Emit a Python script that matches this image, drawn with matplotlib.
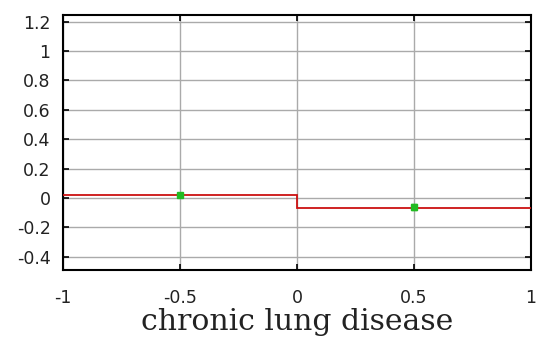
import matplotlib.pyplot as plt

# step function (partial dependence) and group means
edges = [-1, 0, 1]
levels = [0.02, -0.065]
pt_x = [-0.5, 0.5]
pt_y = [0.02, -0.06]
pt_err = [0.01, 0.02]

xticks = [-1, -0.5, 0, 0.5, 1]
xlabels = ["-1", "-0.5", "0", "0.5", "1"]
yticks = [-0.4, -0.2, 0, 0.2, 0.4, 0.6, 0.8, 1, 1.2]
ylabels = ["-0.4", "-0.2", "0", "0.2", "0.4", "0.6", "0.8", "1", "1.2"]

fig = plt.figure(figsize=(5.39, 3.6), dpi=100)
ax = fig.add_axes([0.117, 0.25, 0.868, 0.708])

ax.stairs(levels, edges, color="#cc1111", linewidth=1.3, baseline=None, zorder=3)
ax.errorbar(pt_x, pt_y, yerr=pt_err, fmt="s", color="#22bb22", markersize=4,
            elinewidth=2, capsize=2, zorder=4)

ax.set_xlim(-1, 1)
ax.set_ylim(-0.49, 1.245)
ax.set_xticks(xticks, xlabels, fontfamily="DejaVu Sans", fontsize=12.5, color="#222222")
ax.set_yticks(yticks, ylabels, fontfamily="DejaVu Sans", fontsize=12.5, color="#222222")
ax.grid(True, color="#aaaaaa", linewidth=1.0)
ax.tick_params(direction="in", top=True, right=True, length=4, width=1.2)
ax.tick_params(axis="x", pad=14)
ax.tick_params(axis="y", pad=9)
for s in ax.spines.values():
    s.set_linewidth(1.5)

ax.set_xlabel("chronic lung disease", fontfamily="DejaVu Serif", fontsize=21.5,
              labelpad=0.5, color="#222222")

fig.savefig("out.png", dpi=100)
